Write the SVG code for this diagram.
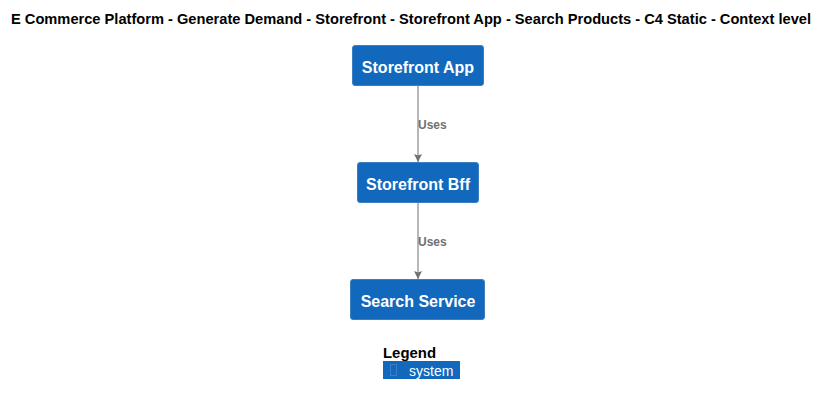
<svg xmlns="http://www.w3.org/2000/svg" width="828" height="404" viewBox="0 0 828 404">
<style>
.title{font-family:"Liberation Sans",Arial,sans-serif;font-weight:bold;font-size:14px;fill:#000}
.box{fill:#1168BD;stroke:#3C7FC0;stroke-width:1}
.lbl{font-family:"Liberation Sans",Arial,sans-serif;font-weight:bold;font-size:16px;fill:#fff;text-anchor:middle}
.edge{stroke:#707070;stroke-width:1;fill:none}
.elbl{font-family:"Liberation Sans",Arial,sans-serif;font-weight:bold;font-size:12px;fill:#707070}
</style>
<defs>
<marker id="arr" viewBox="0 0 10 10" refX="10" refY="5" markerWidth="8" markerHeight="8" orient="auto" markerUnits="userSpaceOnUse">
<path d="M0,0 L10,5 L0,10 L2,5 z" fill="#707070"/>
</marker>
</defs>
<rect width="828" height="404" fill="#fff"/>
<text class="title" x="11" y="24" textLength="800" lengthAdjust="spacingAndGlyphs">E Commerce Platform - Generate Demand - Storefront - Storefront App - Search Products - C4 Static - Context level</text>
<g id="connectors">
<line class="edge" x1="418" y1="85" x2="418" y2="162" marker-end="url(#arr)"/>
<text class="elbl" x="418" y="129">Uses</text>
<line class="edge" x1="418" y1="202" x2="418" y2="279" marker-end="url(#arr)"/>
<text class="elbl" x="418" y="246">Uses</text>
</g>
<g id="storefront-app">
<rect class="box" x="352.5" y="45.5" width="131" height="40" rx="2.5"/>
<text class="lbl" x="418" y="73">Storefront App</text>
</g>
<g id="storefront-bff">
<rect class="box" x="357.5" y="162.5" width="121" height="40" rx="2.5"/>
<text class="lbl" x="418" y="190">Storefront Bff</text>
</g>
<g id="search-service">
<rect class="box" x="350.5" y="279.5" width="134" height="40" rx="2.5"/>
<text class="lbl" x="418" y="307">Search Service</text>
</g>
<g id="legend">
<text class="title" x="383" y="358" textLength="53" lengthAdjust="spacingAndGlyphs">Legend</text>
<rect x="383" y="361" width="77" height="18" fill="#1168BD"/>
<rect x="390.5" y="364.5" width="6" height="11" fill="none" stroke="#3C7FC0" stroke-width="1"/>
<text x="409" y="376" font-family="'Liberation Sans',Arial,sans-serif" font-size="14" fill="#fff">system</text>
</g>
</svg>
